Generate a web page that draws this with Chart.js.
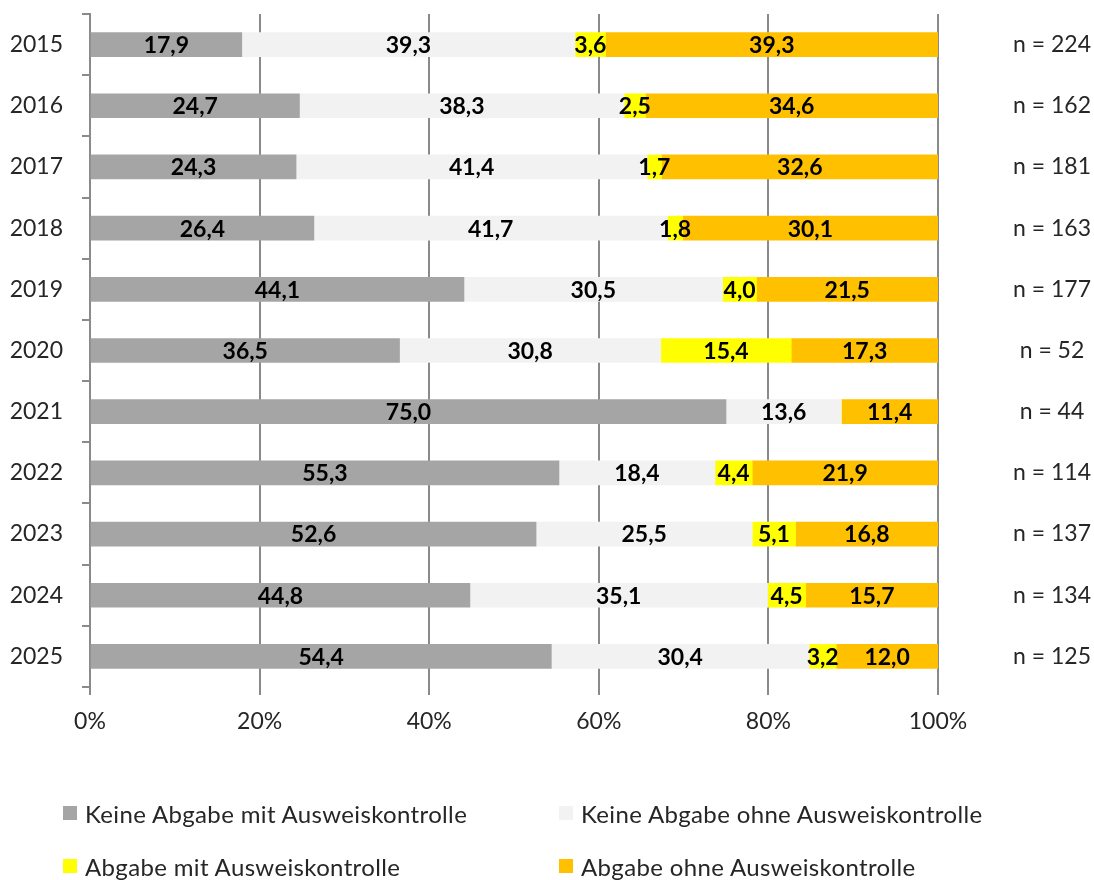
<!DOCTYPE html>
<html>
<head>
<meta charset="utf-8">
<script src="https://cdn.jsdelivr.net/npm/chart.js@4.4.1/dist/chart.umd.min.js"></script>
<style>
  html, body { margin: 0; padding: 0; background: #fff; }
  #wrap { position: relative; width: 1094px; height: 880px; }
  #legend { position: absolute; left: 0; top: 0; width: 1094px; height: 880px; pointer-events: none;
            font-family: Lato, "Open Sans", sans-serif; font-size: 24px; letter-spacing: 0.35px; color: #262626; }
  .item { position: absolute; display: flex; align-items: center; white-space: nowrap; height: 30px; }
  .box { width: 14px; height: 14px; margin-right: 8px; flex: none; }
</style>
</head>
<body>
<div id="wrap">
  <canvas id="c" width="1094" height="880"></canvas>
  <div id="legend"></div>
</div>
<script>
const years = ["2015","2016","2017","2018","2019","2020","2021","2022","2023","2024","2025"];
const nLabels = ["n = 224","n = 162","n = 181","n = 163","n = 177","n = 52","n = 44","n = 114","n = 137","n = 134","n = 125"];
const seriesNames = ["Keine Abgabe mit Ausweiskontrolle","Keine Abgabe ohne Ausweiskontrolle","Abgabe mit Ausweiskontrolle","Abgabe ohne Ausweiskontrolle"];
const keineMit   = [17.9, 24.7, 24.3, 26.4, 44.1, 36.5, 75.0, 55.3, 52.6, 44.8, 54.4];
const keineOhne  = [39.3, 38.3, 41.4, 41.7, 30.5, 30.8, 13.6, 18.4, 25.5, 35.1, 30.4];
const abgabeMit  = [3.6, 2.5, 1.7, 1.8, 4.0, 15.4, 0, 4.4, 5.1, 4.5, 3.2];
const abgabeOhne = [39.3, 34.6, 32.6, 30.1, 21.5, 17.3, 11.4, 21.9, 16.8, 15.7, 12.0];
const xTicks = [0, 20, 40, 60, 80, 100];
const colors = ["#A5A5A5", "#F2F2F2", "#FFFF00", "#FFC000"];

const seriesData = [keineMit, keineOhne, abgabeMit, abgabeOhne];

const labelPlugin = {
  id: 'segLabels',
  afterDatasetsDraw(chart) {
    const ctx = chart.ctx;
    const area = chart.chartArea;
    ctx.save();
    ctx.font = 'bold 23px Lato, "Open Sans", sans-serif';
    ctx.fillStyle = '#000';
    ctx.textAlign = 'center';
    ctx.textBaseline = 'middle';
    chart.data.datasets.forEach((ds, di) => {
      const meta = chart.getDatasetMeta(di);
      meta.data.forEach((bar, i) => {
        const v = ds.data[i];
        if (!v) return;
        const x1 = Math.min(bar.x, area.right);
        const x0 = Math.max(bar.base, area.left);
        ctx.fillText(v.toFixed(1).replace('.', ','), (x0 + x1) / 2, bar.y + 1);
      });
    });
    ctx.restore();
  }
};

const tickFont = { family: 'Lato, "Open Sans", sans-serif', size: 23 };

new Chart(document.getElementById('c'), {
  type: 'bar',
  data: {
    labels: years,
    datasets: seriesData.map((d, i) => ({
      label: seriesNames[i],
      data: d,
      backgroundColor: colors[i],
      borderWidth: 0,
      barThickness: 24,
      yAxisID: 'y'
    }))
  },
  options: {
    indexAxis: 'y',
    responsive: false,
    animation: false,
    layout: { padding: { top: 14, left: 0, right: 0, bottom: 0 } },
    plugins: { legend: { display: false }, tooltip: { enabled: false } },
    scales: {
      x: {
        stacked: true,
        min: 0, max: 100,
        afterBuildTicks(scale) { scale.ticks = xTicks.map(v => ({ value: v })); },
        afterFit(scale) { scale.height = 880 - 687; scale.paddingLeft = 0; scale.paddingRight = 0; },
        ticks: { font: tickFont, color: '#262626', padding: 13, callback: v => v + '%' },
        grid: { color: '#8A8A8A', lineWidth: 2, tickLength: 8, drawTicks: true },
        border: { display: false }
      },
      y: {
        stacked: true,
        offset: true,
        afterFit(scale) { scale.width = 90; scale.paddingTop = 0; scale.paddingBottom = 0; },
        ticks: { font: tickFont, color: '#262626', padding: 19 },
        grid: { drawOnChartArea: false, drawTicks: true, tickLength: 8, color: '#8A8A8A', lineWidth: 2, offset: true },
        border: { display: true, color: '#8A8A8A', width: 2 }
      },
      y2: {
        type: 'category',
        labels: nLabels,
        position: 'right',
        offset: true,
        afterFit(scale) { scale.width = 1094 - 938; scale.paddingTop = 0; scale.paddingBottom = 0; },
        ticks: { font: tickFont, color: '#262626', padding: 75, crossAlign: 'center' },
        grid: { display: false, drawTicks: false },
        border: { display: false }
      }
    }
  },
  plugins: [labelPlugin]
});

const legendPos = [[63, 813], [559, 813], [63, 866], [559, 866]];
const legend = document.getElementById('legend');
seriesNames.forEach((name, i) => {
  const it = document.createElement('div');
  it.className = 'item';
  it.style.left = legendPos[i][0] + 'px';
  it.style.top = (legendPos[i][1] - 15) + 'px';
  const b = document.createElement('span');
  b.className = 'box';
  b.style.background = colors[i];
  const t = document.createElement('span');
  t.textContent = name;
  it.appendChild(b); it.appendChild(t);
  legend.appendChild(it);
});
</script>
</body>
</html>
